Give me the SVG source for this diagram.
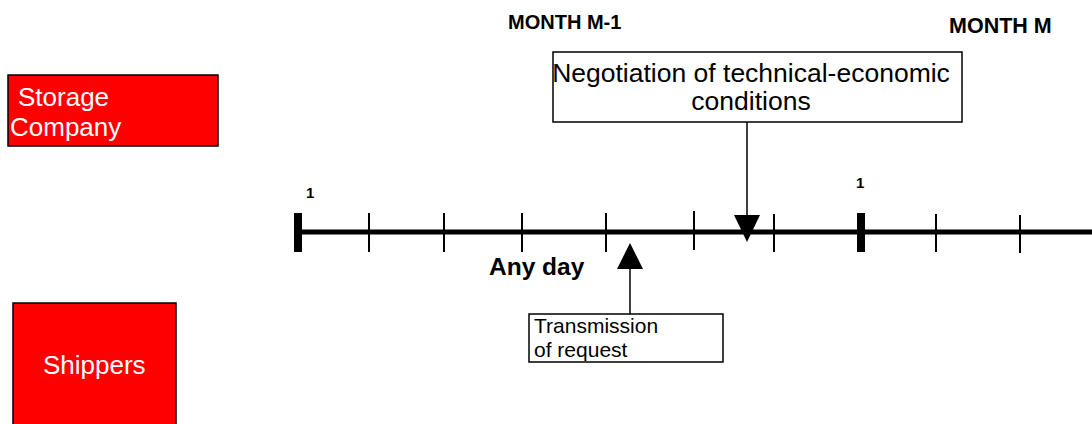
<svg xmlns="http://www.w3.org/2000/svg" width="1092" height="424" viewBox="0 0 1092 424">
<style>
.actor{fill:#ff0000;stroke:#000;stroke-width:1.5}
.actor-t{font-family:"Liberation Sans",Arial,sans-serif;font-size:26px;fill:#fff}
.box{fill:#fff;stroke:#000;stroke-width:1.5}
.t{font-family:"Liberation Sans",Arial,sans-serif;fill:#000}
.b{font-weight:bold}
.tick{stroke:#000;stroke-width:2}
.thick{stroke:#000;stroke-width:8}
.conn{stroke:#000;stroke-width:1.5;fill:none}
.head{fill:#000}
</style>
<rect width="1092" height="424" fill="#fff"/>
<g id="storage-company">
<rect class="actor" x="8" y="75" width="210" height="71"/>
<text class="actor-t" x="18" y="106">Storage</text>
<text class="actor-t" x="10" y="136">Company</text>
</g>
<g id="shippers">
<rect class="actor" x="13" y="303" width="163" height="130"/>
<text class="actor-t" x="43" y="374">Shippers</text>
</g>
<g id="month-labels">
<text class="t b" x="508" y="29" font-size="20">MONTH M-1</text>
<text class="t b" x="949" y="33" font-size="21.5">MONTH M</text>
</g>
<g id="timeline">
<line x1="295" y1="232" x2="1092" y2="232" stroke="#000" stroke-width="5"/>
<line class="thick" x1="298" y1="213" x2="298" y2="252"/>
<line class="thick" x1="861" y1="213" x2="861" y2="252"/>
<line class="tick" x1="369" y1="213" x2="369" y2="252"/>
<line class="tick" x1="444" y1="213" x2="444" y2="252"/>
<line class="tick" x1="522" y1="213" x2="522" y2="252"/>
<line class="tick" x1="606" y1="213" x2="606" y2="252"/>
<line class="tick" x1="694" y1="211" x2="694" y2="250"/>
<line class="tick" x1="774" y1="214" x2="774" y2="252"/>
<line class="tick" x1="936" y1="214" x2="936" y2="252"/>
<line class="tick" x1="1020" y1="215" x2="1020" y2="253"/>
<text class="t b" x="306" y="198" font-size="15">1</text>
<text class="t b" x="856" y="188" font-size="15">1</text>
<text class="t b" x="489" y="275" font-size="24.5">Any day</text>
</g>
<g id="negotiation">
<rect class="box" x="553" y="52" width="409" height="70"/>
<text class="t" x="751" y="82" font-size="26.5" text-anchor="middle">Negotiation of technical-economic</text>
<text class="t" x="751" y="110" font-size="26.5" text-anchor="middle">conditions</text>
</g>
<g id="transmission">
<rect class="box" x="529" y="314" width="194" height="48"/>
<text class="t" x="534" y="333" font-size="21">Transmission</text>
<text class="t" x="534" y="357" font-size="21">of request</text>
</g>
<g id="connectors">
<line class="conn" x1="747" y1="122" x2="747" y2="216"/>
<polygon class="head" points="734,215 760,215 747,242"/>
<line class="conn" x1="630" y1="268" x2="630" y2="314"/>
<polygon class="head" points="617,269 643,269 630,243"/>
</g>
</svg>
